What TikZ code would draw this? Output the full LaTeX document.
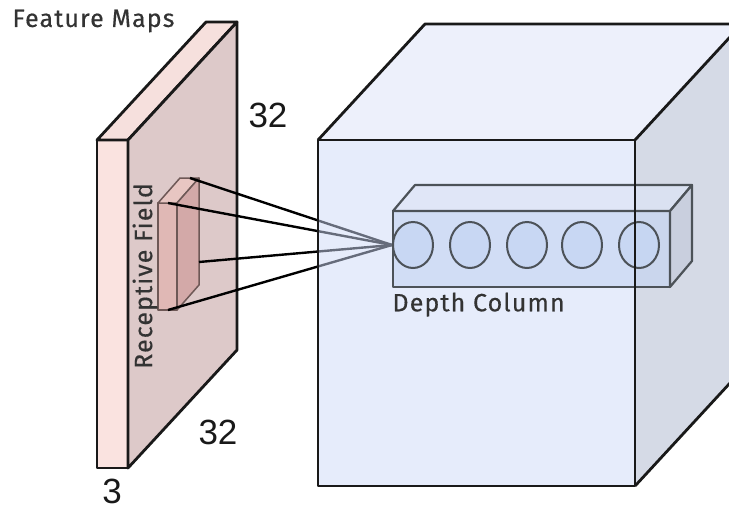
\documentclass[tikz,border=0pt]{standalone}
\usepackage{fontspec}
\setmainfont{Liberation Sans}
\newfontfamily\captionfont[LetterSpace=4.5,FakeBold=0.4]{Fira Sans}
\usetikzlibrary{positioning,shapes.geometric}

\definecolor{mapfront}{HTML}{FAE3E0}
\definecolor{maptop}{HTML}{F6E0DD}
\definecolor{mapside}{HTML}{DDC9C9}
\definecolor{rffront}{HTML}{E0B8B5}
\definecolor{rftop}{HTML}{E8C6C2}
\definecolor{rfside}{HTML}{D3A9A8}
\definecolor{volfront}{HTML}{CDD9F7}
\definecolor{voltop}{HTML}{EDF0FB}
\definecolor{volside}{HTML}{D5DAE6}
\definecolor{colfront}{HTML}{C4D4F2}
\definecolor{coltop}{HTML}{DDE5F6}
\definecolor{colside}{HTML}{C4CBDB}
\definecolor{colline}{HTML}{4C5258}
\definecolor{rfline}{HTML}{6E5856}
\definecolor{neuronfill}{HTML}{C6D6F4}

\pgfdeclarelayer{back}
\pgfsetlayers{back,main}

\begin{document}
\begin{tikzpicture}[x=1pt,y=-1pt,
        slab/.style={draw=black!90,line width=2.8pt,line join=round},
        rfbox/.style={draw=rfline,line width=1.5pt,line join=round},
        wire/.style={draw=black,line width=2.4pt},
        colbox/.style={draw=colline,line width=2.2pt,line join=round},
        neuron/.style={ellipse,draw=colline,line width=2pt,fill=neuronfill,
            fill opacity=0.8,minimum width=40pt,minimum height=46pt,inner sep=0pt},
        dimlabel/.style={font=\fontsize{35}{35}\selectfont,text=black!90},
        caption/.style={font=\captionfont\fontsize{25}{25}\selectfont,text=black!80}]

    \clip (0,0) rectangle (729,512);

    % feature map slab and receptive field
    \begin{pgfonlayer}{back}
        \filldraw[slab,fill=mapfront] (97,140) rectangle (128,468);
        \filldraw[slab,fill=maptop] (97,140) -- (206,22) -- (237,22) -- (128,140) -- cycle;
        \filldraw[slab,fill=mapside] (128,140) -- (237,22) -- (237,350) -- (128,468) -- cycle;

        \filldraw[rfbox,fill=rffront] (158,203) rectangle (177,310);
        \filldraw[rfbox,fill=rftop] (158,203) -- (180,178) -- (199,178) -- (177,203) -- cycle;
        \filldraw[rfbox,fill=rfside] (177,203) -- (199,178) -- (199,285) -- (177,310) -- cycle;

        \coordinate (rf-back) at (190,178);
        \coordinate (rf-top) at (168,203);
        \coordinate (rf-side) at (199,262);
        \coordinate (rf-bottom) at (168,310);
    \end{pgfonlayer}

    \node[caption,anchor=west] (fmaps) at (9,21) {Feature Maps};
    \node[dimlabel] (height) at (268,115) {32};
    \node[dimlabel] (width) at (218,432) {32};
    \node[dimlabel] (depth) at (112,491) {3};
    \node[caption,rotate=90] (rflabel) at (145,276) {Receptive Field};

    % output volume
    \fill[volfront,fill opacity=0.5] (318,140) rectangle (635,486);
    \fill[voltop] (318,140) -- (425,24) -- (742,24) -- (635,140) -- cycle;
    \fill[volside] (635,140) -- (742,24) -- (742,370) -- (635,486) -- cycle;

    % depth column
    \filldraw[colbox,fill=colfront,fill opacity=0.6] (393,211) rectangle (670,287);
    \filldraw[colbox,fill=coltop,fill opacity=0.7] (393,211) -- (415,185) -- (692,185) -- (670,211) -- cycle;
    \filldraw[colbox,fill=colside,fill opacity=0.7] (670,211) -- (692,185) -- (692,261) -- (670,287) -- cycle;
    \foreach \i/\x in {1/413,2/470,3/527,4/582,5/639}
        \node[neuron] (n\i) at (\x,245) {};
    \node[caption,anchor=north west] (colname) at (389,289) {Depth Column};

    \draw[slab] (318,140) rectangle (635,486);
    \draw[slab] (318,140) -- (425,24) -- (742,24) -- (635,140);
    \draw[slab] (742,24) -- (742,370) -- (635,486);

    % receptive field wiring
    \begin{pgfonlayer}{back}
        \foreach \p in {rf-back,rf-top,rf-side,rf-bottom}
            \draw[wire] (\p) -- (n1.west);
    \end{pgfonlayer}
\end{tikzpicture}
\end{document}
